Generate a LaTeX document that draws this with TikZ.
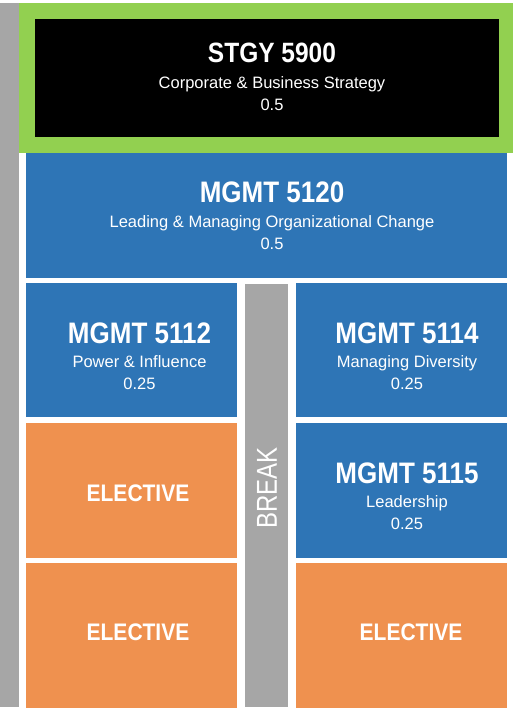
\documentclass[tikz,border=0pt]{standalone}
\usepackage{fontspec}
\setmainfont{Liberation Sans}
\usepackage{tikz}

\definecolor{stgygreen}{HTML}{92D050}
\definecolor{mgmtblue}{HTML}{2E75B6}
\definecolor{electorange}{HTML}{EF914F}
\definecolor{breakgray}{HTML}{A6A6A6}

\newcommand{\tall}[1]{\scalebox{1}[1.14]{#1}}

\tikzset{
  block/.style={anchor=north west, inner sep=0pt, outer sep=0pt},
  code/.style={font=\fontsize{26}{26}\selectfont\bfseries, text=white},
  course/.style={font=\fontsize{16.5}{22}\selectfont, text=white, align=center},
  elective/.style={font=\fontsize{21}{21}\selectfont\bfseries, text=white}
}

\begin{document}
\begin{tikzpicture}[x=1pt,y=-1pt]
   \useasboundingbox (0,0) rectangle (513,709);
   % frame and rows
   \node[block, fill=breakgray, minimum width=19pt, minimum height=704pt] (side) at (0,3) {};
   \node[block, fill=stgygreen, minimum width=494pt, minimum height=150pt] (capstone) at (19,3) {};
   \node[block, fill=black, minimum width=464pt, minimum height=118pt] (stgy) at (35,19) {};
   \node[block, fill=mgmtblue, minimum width=481pt, minimum height=125pt] (m5120) at (26,153) {};
   \node[block, fill=mgmtblue, minimum width=211pt, minimum height=134pt] (m5112) at (26,283) {};
   \node[block, fill=mgmtblue, minimum width=211pt, minimum height=134pt] (m5114) at (296,283) {};
   \node[block, fill=breakgray, minimum width=43pt, minimum height=423pt] (pause) at (245,284) {};
   \node[block, fill=electorange, minimum width=211pt, minimum height=135pt] (elecA) at (26,423) {};
   \node[block, fill=mgmtblue, minimum width=211pt, minimum height=135pt] (m5115) at (296,423) {};
   \node[block, fill=electorange, minimum width=211pt, minimum height=145pt] (elecB) at (26,563) {};
   \node[block, fill=electorange, minimum width=211pt, minimum height=145pt] (elecC) at (296,563) {};

   % texts
   \node[code, font=\fontsize{24.5}{24.5}\selectfont\bfseries] (stgyT) at (272,53) {\tall{STGY 5900}};
   \node[course] (stgyC) at (272,94) {Corporate \& Business Strategy\\0.5};
   \node[code] (m5120T) at (272,192) {\tall{MGMT 5120}};
   \node[course] (m5120C) at (272,233) {Leading \& Managing Organizational Change\\0.5};
   \node[code] (m5112T) at (139.5,333) {\tall{MGMT 5112}};
   \node[course] (m5112C) at (139.5,372.5) {Power \& Influence\\0.25};
   \node[code] (m5114T) at (407,333) {\tall{MGMT 5114}};
   \node[course] (m5114C) at (407,372.5) {Managing Diversity\\0.25};
   \node[code] (m5115T) at (407,473) {\tall{MGMT 5115}};
   \node[course] (m5115C) at (407,512.5) {Leadership\\0.25};
   \node[elective] (elecAT) at (138,493) {\tall{ELECTIVE}};
   \node[elective] (elecBT) at (138,632) {\tall{ELECTIVE}};
   \node[elective] (elecCT) at (411,632) {\tall{ELECTIVE}};
   \node[font=\fontsize{24}{24}\selectfont, text=white, rotate=90] (pauseT) at (267,488) {\scalebox{1}[1.2]{BREAK}};
\end{tikzpicture}
\end{document}
